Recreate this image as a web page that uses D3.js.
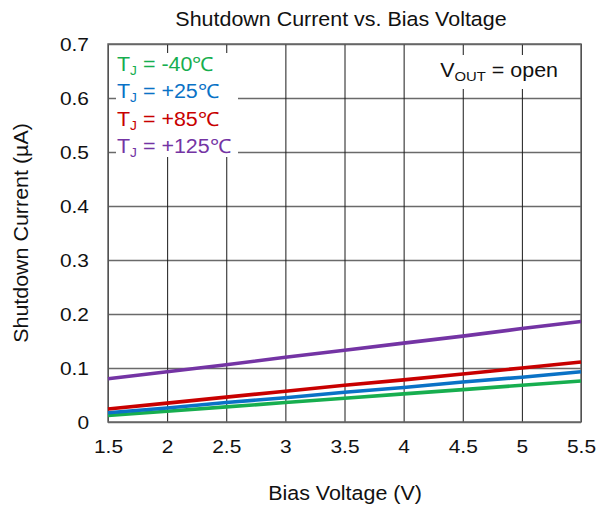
<!DOCTYPE html>
<html>
<head>
<meta charset="utf-8">
<script src="https://cdn.jsdelivr.net/npm/d3@7"></script>
<style>
  html, body { margin: 0; padding: 0; background: #fff; }
  svg text { font-family: "Liberation Sans", Arial, Helvetica, sans-serif; fill: #111; }
</style>
</head>
<body>
<svg id="chart" width="607" height="510"></svg>
<script>
// Bias voltage sweep (V)
const biasVoltage = [1.5, 2, 2.5, 3, 3.5, 4, 4.5, 5, 5.5];

// Shutdown current (µA) per junction temperature
const iMinus40 = [0.012, 0.020, 0.028, 0.036, 0.044, 0.052, 0.060, 0.068, 0.076];
const iPlus25  = [0.017, 0.026, 0.036, 0.045, 0.055, 0.064, 0.074, 0.083, 0.093];
const iPlus85  = [0.024, 0.035, 0.046, 0.057, 0.068, 0.078, 0.089, 0.100, 0.111];
const iPlus125 = [0.080, 0.093, 0.106, 0.120, 0.133, 0.146, 0.159, 0.173, 0.186];

const seriesNames = ["-40℃", "+25℃", "+85℃", "+125℃"];
const seriesColors = ["#17ae4f", "#0a72c6", "#c80000", "#7434a4"];
const seriesValues = [iMinus40, iPlus25, iPlus85, iPlus125];

const xTicks = [1.5, 2, 2.5, 3, 3.5, 4, 4.5, 5, 5.5];
const yTicks = [0, 0.1, 0.2, 0.3, 0.4, 0.5, 0.6, 0.7];

const svg = d3.select("#chart");
const margin = { left: 108, right: 26, top: 44, bottom: 88 };
const W = 607 - margin.left - margin.right;
const H = 510 - margin.top - margin.bottom;
const SX = 1.1;         // horizontal widening of the typeface
const FS = 19.5;
const TICK_FS = 19;

const x = d3.scaleLinear().domain([1.5, 5.5]).range([0, W]);
const y = d3.scaleLinear().domain([0, 0.7]).range([H, 0]);

const g = svg.append("g").attr("transform", `translate(${margin.left},${margin.top})`);

// Horizontal grid + y tick labels
const yAxis = g.append("g")
  .call(d3.axisLeft(y).tickValues(yTicks).tickSize(-W).tickPadding(0)
    .tickFormat(d => d === 0 ? "0" : d3.format(".1f")(d)));
yAxis.select(".domain").remove();
yAxis.selectAll(".tick line").attr("stroke", "#6a6a6a").attr("stroke-width", 1.5);
yAxis.selectAll(".tick text")
  .attr("x", -19 / SX).attr("dy", 6.8)
  .attr("transform", `scale(${SX},1)`)
  .style("font-size", TICK_FS + "px").style("font-family", "Liberation Sans, Arial, sans-serif")
  .attr("fill", "#111");

// Vertical grid + x tick labels
const xAxis = g.append("g").attr("transform", `translate(0,${H})`)
  .call(d3.axisBottom(x).tickValues(xTicks).tickSize(-H).tickPadding(0)
    .tickFormat(d => String(d)));
xAxis.select(".domain").remove();
xAxis.selectAll(".tick line").attr("stroke", "#1a1a1a").attr("stroke-width", 1);
xAxis.selectAll(".tick text")
  .attr("x", 0).attr("y", 31.5).attr("dy", 0)
  .attr("transform", `scale(${SX},1)`)
  .style("font-size", TICK_FS + "px").style("font-family", "Liberation Sans, Arial, sans-serif")
  .attr("fill", "#111");

// Plot frame
g.append("rect").attr("x", 0).attr("y", 0).attr("width", W).attr("height", H)
  .attr("fill", "none").attr("stroke", "#666").attr("stroke-width", 1.5);

// Annotation backgrounds (hide the grid behind the labels)
g.append("rect").attr("x", 116 - margin.left).attr("y", 53 - margin.top)
  .attr("width", 122).attr("height", 104).attr("fill", "#fff");
g.append("rect").attr("x", 443 - margin.left).attr("y", 55 - margin.top)
  .attr("width", 118).attr("height", 34).attr("fill", "#fff");

// Current curves
const line = d3.line().x((d, i) => x(biasVoltage[i])).y(d => y(d));
seriesValues.forEach((vals, k) => {
  g.append("path").datum(vals)
    .attr("d", line)
    .attr("fill", "none")
    .attr("stroke", seriesColors[k])
    .attr("stroke-width", 3.6)
    .attr("stroke-linejoin", "round");
});

// Text helper with a slightly widened face
function label(px, py, anchor, rotate) {
  return svg.append("text")
    .attr("transform", `translate(${px},${py})` + (rotate ? ` rotate(${rotate})` : "") + ` scale(${SX},1)`)
    .attr("text-anchor", anchor)
    .style("font-size", FS + "px");
}

// Legend
seriesNames.forEach((name, k) => {
  const t = label(117, 71 + k * 27.3, "start").attr("fill", seriesColors[k]);
  t.append("tspan").text("T").attr("fill", seriesColors[k]);
  t.append("tspan").text("J").attr("dy", 4).style("font-size", "12.5px").attr("fill", seriesColors[k]);
  t.append("tspan").text(" = " + name).attr("dy", -4).attr("fill", seriesColors[k]);
});

// Condition note
const note = label(558, 77, "end");
note.append("tspan").text("V");
note.append("tspan").text("OUT").attr("dy", 4).style("font-size", "13.5px");
note.append("tspan").text(" = open").attr("dy", -4);

// Titles
label(341, 26, "middle").text("Shutdown Current vs. Bias Voltage");
label(345, 500, "middle").text("Bias Voltage (V)");
label(28, margin.top + H / 2, "middle", -90).text("Shutdown Current (µA)");
</script>
</body>
</html>
